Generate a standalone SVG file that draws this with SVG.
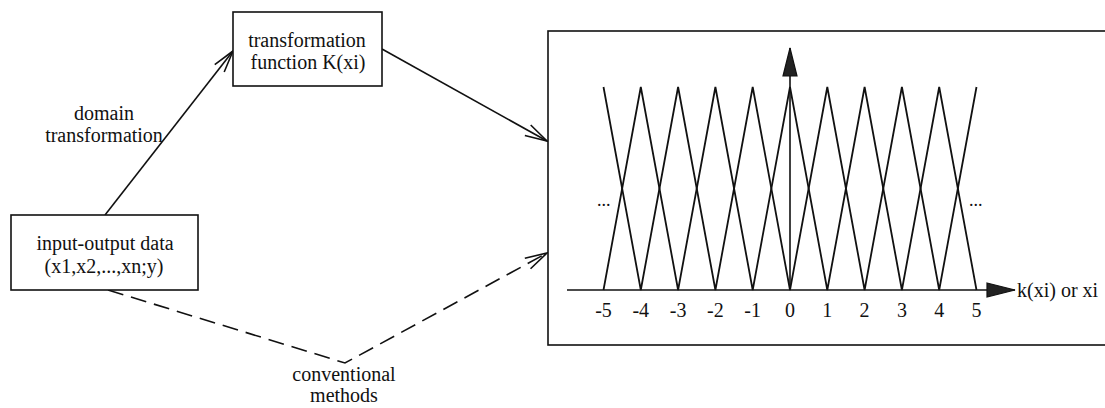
<svg xmlns="http://www.w3.org/2000/svg" width="1105" height="408" viewBox="0 0 1105 408">
<style>
text{font-family:"Liberation Serif","Times New Roman",serif;font-size:20px;fill:#111}
.box{fill:#fff;stroke:#111;stroke-width:1.6}
.ln{fill:none;stroke:#111;stroke-width:1.6}
.dash{stroke-dasharray:16 8}
.zz{fill:none;stroke:#111;stroke-width:1.8;stroke-linejoin:miter}
.mid{text-anchor:middle}
</style>
<defs>
<marker id="open" viewBox="-26 -10 30 20" markerWidth="30" markerHeight="20" refX="0" refY="0" orient="auto" markerUnits="userSpaceOnUse">
<path d="M-22,-6 L0,0 L-22,6" fill="none" stroke="#111" stroke-width="1.6" stroke-dasharray="none"/>
</marker>
<marker id="solid" viewBox="-30 -9 32 18" markerWidth="32" markerHeight="18" refX="0" refY="0" orient="auto" markerUnits="userSpaceOnUse">
<path d="M-28,-7 L0,0 L-28,7 Z" fill="#222" stroke="#111" stroke-width="1.2"/>
</marker>
</defs>

<g id="connectors">
<line class="ln" x1="105" y1="215" x2="233" y2="51" marker-end="url(#open)"/>
<line class="ln" x1="382" y1="49" x2="547" y2="141" marker-end="url(#open)"/>
<polyline class="ln dash" points="108,290 345,363 547,253" marker-end="url(#open)"/>
</g>

<g id="node-transform">
<rect class="box" x="233" y="12" width="149" height="74"/>
<text class="mid" x="307" y="47">transformation</text>
<text class="mid" x="308" y="69">function K(xi)</text>
</g>

<g id="node-input">
<rect class="box" x="11" y="215" width="187" height="75"/>
<text class="mid" x="105" y="250">input-output data</text>
<text class="mid" x="104" y="273">(x1,x2,...,xn;y)</text>
</g>

<g id="label-domain">
<text class="mid" x="104" y="120">domain</text>
<text class="mid" x="104" y="142">transformation</text>
</g>

<g id="label-conventional">
<text class="mid" x="344" y="381">conventional</text>
<text class="mid" x="344" y="402">methods</text>
</g>

<g id="node-plot">
<rect class="box" x="548" y="31" width="570" height="314"/>
<polyline class="zz" points="603.5,290 640.8,87 678.1,290 715.4,87 752.7,290 790,87 827.3,290 864.6,87 901.9,290 939.2,87 976.5,290"/>
<polyline class="zz" points="603.5,87 640.8,290 678.1,87 715.4,290 752.7,87 790,290 827.3,87 864.6,290 901.9,87 939.2,290 976.5,87"/>
<line class="ln" x1="567" y1="290" x2="1015" y2="290" marker-end="url(#solid)"/>
<line class="ln" x1="790" y1="290" x2="790" y2="48" marker-end="url(#solid)"/>
<text x="1017" y="297">k(xi) or xi</text>
<text x="597" y="206" style="font-size:18px">...</text>
<text x="969" y="206" style="font-size:18px">...</text>
<g class="ticks">
<text class="mid" x="603.5" y="317">-5</text>
<text class="mid" x="640.8" y="317">-4</text>
<text class="mid" x="678.1" y="317">-3</text>
<text class="mid" x="715.4" y="317">-2</text>
<text class="mid" x="752.7" y="317">-1</text>
<text class="mid" x="790" y="317">0</text>
<text class="mid" x="827.3" y="317">1</text>
<text class="mid" x="864.6" y="317">2</text>
<text class="mid" x="901.9" y="317">3</text>
<text class="mid" x="939.2" y="317">4</text>
<text class="mid" x="976.5" y="317">5</text>
</g>
</g>
</svg>
